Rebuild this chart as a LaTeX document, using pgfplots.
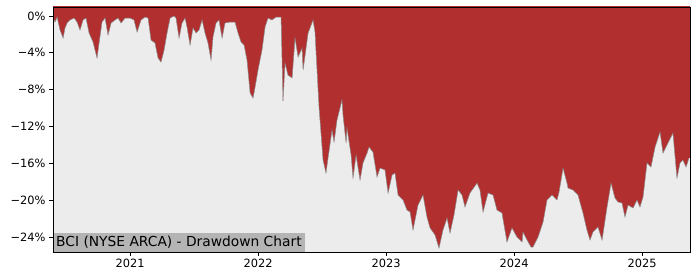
\documentclass[border=0pt]{standalone}
\usepackage{pgfplots}
\pgfplotsset{compat=1.18}
\usepackage{pgfplotstable}
\usepackage{fontspec}
\setmainfont{DejaVu Sans}
\definecolor{ddred}{RGB}{177,47,47}
\definecolor{ddbg}{RGB}{236,236,236}
\definecolor{ddbox}{RGB}{180,180,180}
\definecolor{ddedge}{RGB}{140,140,140}

\pgfplotstableread{
year pct
2020.398 -0.11
2020.414 -0.65
2020.430 -0.11
2020.453 -1.52
2020.477 -2.39
2020.492 -1.30
2020.508 -0.76
2020.531 -0.43
2020.563 -0.22
2020.586 -0.65
2020.609 -1.52
2020.633 -0.43
2020.656 -0.22
2020.680 -1.85
2020.711 -2.82
2020.742 -4.56
2020.758 -2.93
2020.781 -0.65
2020.805 -0.22
2020.828 -2.06
2020.852 -0.76
2020.883 -0.43
2020.906 -0.22
2020.930 -0.76
2020.961 -0.22
2021.000 -0.22
2021.031 -0.43
2021.055 -1.74
2021.086 -0.43
2021.117 -0.11
2021.141 -0.22
2021.164 -2.61
2021.195 -2.93
2021.219 -4.56
2021.242 -5.00
2021.266 -3.69
2021.289 -1.85
2021.313 -0.22
2021.344 0.00
2021.359 -0.22
2021.383 -2.39
2021.406 -0.76
2021.430 -0.22
2021.445 -1.19
2021.469 -3.15
2021.492 -1.30
2021.516 -1.85
2021.539 -1.52
2021.563 -0.43
2021.586 -1.85
2021.609 -2.93
2021.633 -4.78
2021.648 -2.28
2021.672 -0.76
2021.695 -0.43
2021.719 -2.39
2021.742 -0.76
2021.781 -0.65
2021.820 -0.65
2021.844 -1.85
2021.867 -2.82
2021.891 -3.15
2021.914 -4.78
2021.938 -8.36
2021.961 -8.91
2021.977 -7.71
2022.000 -5.86
2022.031 -3.69
2022.055 -1.19
2022.078 -0.22
2022.109 -0.43
2022.141 -0.11
2022.164 -0.11
2022.180 -0.11
2022.195 -9.23
2022.211 -5.10
2022.234 -6.41
2022.266 -6.73
2022.289 -2.39
2022.313 -4.45
2022.344 -3.48
2022.352 -5.86
2022.391 -1.85
2022.430 -0.43
2022.445 -1.74
2022.477 -9.99
2022.508 -15.64
2022.531 -17.05
2022.547 -15.42
2022.578 -12.38
2022.594 -13.68
2022.617 -11.29
2022.656 -9.12
2022.664 -10.75
2022.688 -13.79
2022.695 -12.16
2022.727 -15.10
2022.742 -17.59
2022.766 -15.10
2022.797 -17.81
2022.820 -15.96
2022.852 -14.88
2022.867 -14.23
2022.898 -14.77
2022.930 -17.48
2022.953 -16.51
2022.992 -16.72
2023.016 -19.22
2023.047 -17.27
2023.070 -17.05
2023.094 -19.44
2023.133 -19.98
2023.164 -21.07
2023.188 -21.29
2023.211 -23.24
2023.250 -20.53
2023.289 -19.44
2023.320 -21.83
2023.344 -23.02
2023.383 -23.78
2023.414 -25.20
2023.445 -23.24
2023.477 -21.94
2023.500 -23.57
2023.531 -21.61
2023.563 -18.90
2023.594 -19.44
2023.617 -20.74
2023.656 -19.22
2023.711 -18.14
2023.734 -18.90
2023.758 -21.29
2023.797 -19.22
2023.836 -19.44
2023.867 -21.07
2023.906 -21.39
2023.945 -24.54
2023.984 -23.02
2024.023 -24.00
2024.063 -24.54
2024.070 -23.46
2024.102 -24.33
2024.133 -25.09
2024.148 -25.09
2024.188 -24.00
2024.227 -22.37
2024.258 -19.98
2024.297 -19.44
2024.336 -19.98
2024.352 -19.11
2024.383 -16.51
2024.414 -18.14
2024.422 -18.68
2024.461 -18.90
2024.500 -19.44
2024.539 -21.39
2024.570 -23.24
2024.594 -24.33
2024.617 -23.46
2024.656 -22.91
2024.688 -24.33
2024.727 -20.74
2024.758 -18.14
2024.789 -19.77
2024.813 -20.20
2024.844 -20.31
2024.867 -21.83
2024.891 -20.53
2024.930 -20.85
2024.961 -19.98
2024.984 -20.74
2025.008 -19.66
2025.039 -15.96
2025.070 -16.40
2025.102 -14.23
2025.141 -12.60
2025.164 -14.88
2025.203 -13.79
2025.242 -12.71
2025.273 -17.59
2025.297 -15.96
2025.320 -15.64
2025.344 -16.40
2025.367 -15.42
}\dd

\begin{document}
\begin{tikzpicture}[font=\fontsize{11.4bp}{13.5bp}\selectfont]
\begin{axis}[
  at={(53bp,28bp)}, anchor=south west,
  scale only axis, width=637bp, height=245bp,
  xmin=2020.398, xmax=2025.375,
  ymin=-25.63, ymax=0.98,
  axis background/.style={fill=ddbg},
  axis line style={black, line width=0.8bp},
  tick style={black, line width=0.8bp},
  tick align=outside, major tick length=4bp,
  xtick={2021,2022,2023,2024,2025},
  xticklabels={2021,2022,2023,2024,2025},
  ytick={-24,-20,-16,-12,-8,-4,0},
  yticklabels={−24\%,−20\%,−16\%,−12\%,−8\%,−4\%,0\%},
  xtick pos=bottom, ytick pos=left,
  /pgf/number format/assume math mode=true,
  ticklabel style={font=\fontsize{11.4bp}{13.5bp}\selectfont},
  axis on top,
]
\addplot[fill=ddred, draw=none] table[x=year,y=pct] {\dd}
  -- (axis cs:2025.375,-15.42) -- (axis cs:2025.375,1.5) -- (axis cs:2020.398,1.5) -- cycle;
\addplot[draw=ddedge, line width=0.5bp] table[x=year,y=pct] {\dd};
\node[anchor=south west, fill=ddbox, inner xsep=3bp, inner ysep=0pt,
      minimum height=19bp, text=black,
      font=\fontsize{13.8bp}{16bp}\selectfont]
  at (rel axis cs:0,0) {BCI (NYSE ARCA) - Drawdown Chart};
\end{axis}
\path[use as bounding box] (0,0) rectangle (700bp,280bp);
\end{tikzpicture}
\end{document}
